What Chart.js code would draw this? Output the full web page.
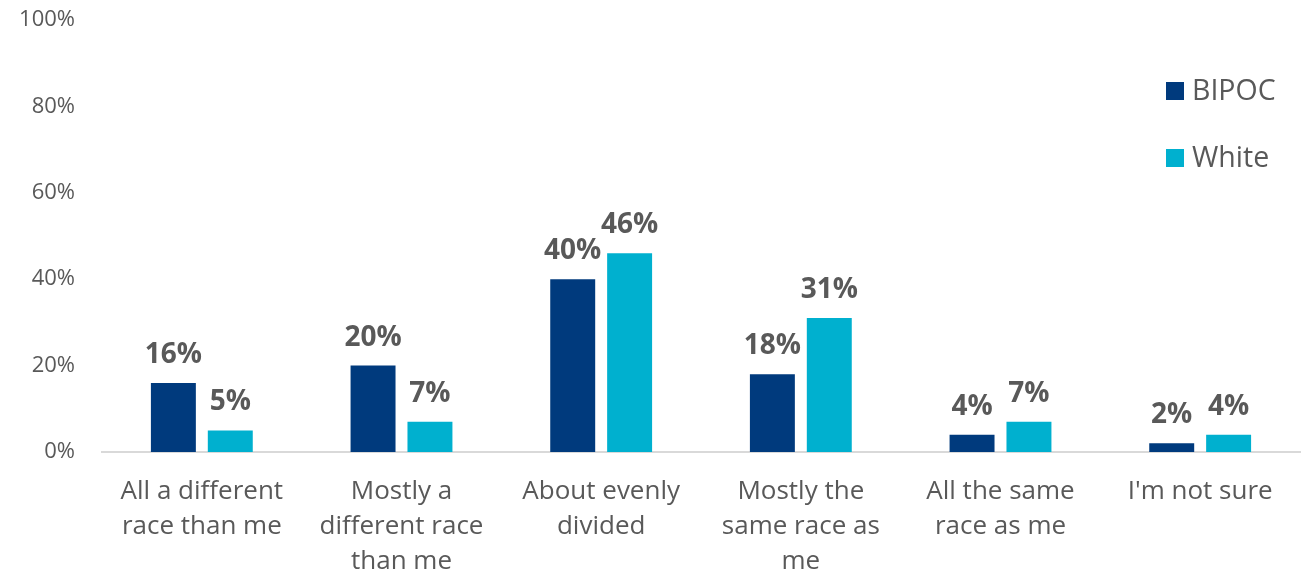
<!DOCTYPE html>
<html>
<head>
<meta charset="utf-8">
<script src="https://cdn.jsdelivr.net/npm/chart.js@4/dist/chart.umd.min.js"></script>
<style>
  html, body { margin: 0; padding: 0; background: #fff; }
  #wrap { width: 1309px; height: 577px; position: relative; }
</style>
</head>
<body>
<div id="wrap"><canvas id="bar-chart"></canvas></div>
<script>
const categories = [
  ["All a different", "race than me"],
  ["Mostly a", "different race", "than me"],
  ["About evenly", "divided"],
  ["Mostly the", "same race as", "me"],
  ["All the same", "race as me"],
  ["I'm not sure"]
];
const seriesNames = ["BIPOC", "White"];
const bipocValues = [16, 20, 40, 18, 4, 2];
const whiteValues = [5, 7, 46, 31, 7, 4];
const tickValues = [0, 20, 40, 60, 80, 100];

const colors = ["#003A7D", "#00B0CF"];
const textGray = "#595959";
const fontFamily = "'Open Sans', sans-serif";

// Value labels above each bar
const valueLabels = {
  id: 'valueLabels',
  afterDatasetsDraw(chart) {
    let ctx = chart.ctx;
    ctx.save();
    ctx.font = "bold 28px " + fontFamily;
    ctx.fillStyle = textGray;
    ctx.textAlign = "center";
    ctx.textBaseline = "alphabetic";
    chart.data.datasets.forEach((ds, i) => {
      chart.getDatasetMeta(i).data.forEach((bar, j) => {
        ctx.fillText(ds.data[j] + "%", bar.x, bar.y - 20);
      });
    });
    ctx.restore();
  }
};

// Legend at top right, stacked vertically
const sideLegend = {
  id: 'sideLegend',
  afterDraw(chart) {
    let ctx = chart.ctx;
    ctx.save();
    ctx.font = "28.5px " + fontFamily;
    ctx.textBaseline = "middle";
    ctx.textAlign = "left";
    chart.data.datasets.forEach((ds, i) => {
      let y = 91 + i * 67;
      ctx.fillStyle = ds.backgroundColor;
      ctx.fillRect(1166, y - 9, 18, 18);
      ctx.fillStyle = textGray;
      ctx.fillText(ds.label, 1192, y + 1);
    });
    ctx.restore();
  }
};

let ctx = document.getElementById("bar-chart").getContext("2d");
let chart = new Chart(ctx, {
  type: "bar",
  data: {
    labels: categories,
    datasets: [
      { label: seriesNames[0], data: bipocValues, backgroundColor: colors[0] },
      { label: seriesNames[1], data: whiteValues, backgroundColor: colors[1] }
    ]
  },
  options: {
    responsive: true,
    maintainAspectRatio: false,
    animation: false,
    categoryPercentage: 0.57,
    barPercentage: 0.79,
    layout: { padding: { top: 20, right: 9, left: 0, bottom: 0 } },
    plugins: {
      legend: { display: false },
      tooltip: { enabled: false }
    },
    scales: {
      x: {
        grid: { display: false, drawTicks: false },
        border: { display: true, color: "#d9d9d9", width: 2 },
        ticks: {
          color: textGray,
          font: { family: fontFamily, size: 26, lineHeight: 1.35 },
          padding: 22,
          maxRotation: 0,
          autoSkip: false
        },
        afterFit(scale) { scale.height = 125; }
      },
      y: {
        min: 0,
        max: 100,
        afterBuildTicks(scale) { scale.ticks = tickValues.map(v => ({ value: v })); },
        grid: { display: false, drawTicks: false },
        border: { display: false },
        ticks: {
          color: textGray,
          font: { family: fontFamily, size: 22 },
          padding: 27,
          callback: v => v + "%"
        },
        afterFit(scale) {
          scale.width = 102;
          scale.paddingTop = 0;
          scale.paddingBottom = 0;
        }
      }
    }
  },
  plugins: [valueLabels, sideLegend]
});
</script>
</body>
</html>
